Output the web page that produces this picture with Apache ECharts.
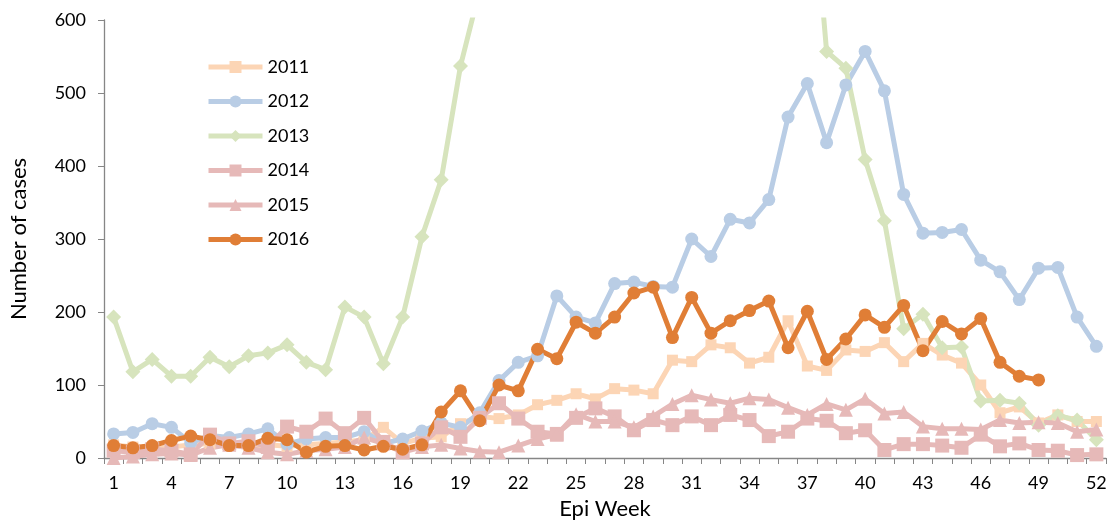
<!DOCTYPE html>
<html>
<head>
<meta charset="utf-8">
<script src="https://cdn.jsdelivr.net/npm/echarts@6/dist/echarts.min.js"></script>
<style>
html,body{margin:0;padding:0;background:#fff;}
#chart{width:1116px;height:525px;}
</style>
</head>
<body>
<div id="chart"></div>
<script>
var weeks = [];
for (var i = 1; i <= 52; i++) weeks.push(String(i));

var yTicks = [0, 100, 200, 300, 400, 500, 600];
var seriesNames = ['2011', '2012', '2013', '2014', '2015', '2016'];

var y2011 = [18,15,12,15,18,20,18,15,18,16, 18,20,22,25,42,20,27,29,47,57, 54,59,73,79,88,81,95,93,88,134, 132,155,151,130,138,188,126,120,148,146, 158,132,157,141,130,100,62,70,48,59, 50,50];
var y2012 = [33,35,47,42,21,31,28,33,40,19, 26,28,28,36,20,26,37,48,42,62, 106,131,140,222,193,185,239,241,235,234, 300,276,327,322,354,467,513,432,511,557, 503,361,308,309,313,271,255,217,260,261, 193,153];
var y2013 = [193,118,135,112,112,138,125,140,144,155, 131,121,207,193,129,193,303,381,537,642, 720,790,850,900,940,980,1000,1020,990,960, 1000,980,950,930,910,890,865,557,534,409, 325,177,197,151,152,78,79,75,45,58, 52,25];
var y2014 = [10,8,12,10,5,32,20,23,15,43, 36,54,34,55,22,8,20,42,29,55, 75,54,36,33,55,68,57,38,52,45, 57,45,59,52,30,36,54,51,34,38, 11,19,19,17,14,32,16,20,11,10, 4,5];
var y2015 = [0,2,5,6,4,14,18,14,8,5, 10,12,15,28,20,8,15,18,13,9, 8,17,26,32,60,50,50,42,57,74, 86,80,75,82,80,69,59,74,66,81, 61,63,43,40,40,39,52,48,49,48, 36,39];
var y2016 = [17,14,17,24,30,25,17,17,27,25, 8,16,17,11,16,12,18,63,92,51, 100,92,149,136,186,171,193,226,234,165, 220,171,188,202,215,151,201,135,163,196, 179,209,147,187,170,191,131,112,107];

var colors = ['#FCD5B5', '#B9CDE5', '#D7E4BD', '#E6B9B8', '#E6B9B8', '#E07E36'];
var symbols = ['rect', 'circle', 'diamond', 'rect', 'triangle', 'circle'];
var symbolSizes = [11, 13, 15, 14, 14, 13];
var dataSets = [y2011, y2012, y2013, y2014, y2015, y2016];

var series = seriesNames.map(function (name, i) {
  return {
    name: name,
    type: 'line',
    data: dataSets[i],
    symbol: symbols[i],
    symbolSize: symbolSizes[i],
    showSymbol: true,
    showAllSymbol: true,
    clip: true,
    lineStyle: { color: colors[i], width: 5 },
    itemStyle: { color: colors[i] },
    emphasis: { disabled: true },
    animation: false
  };
});

var chart = echarts.init(document.getElementById('chart'));
chart.setOption({
  animation: false,
  textStyle: { fontFamily: 'Lato, "Open Sans", sans-serif' },
  grid: { left: 100, right: 10, top: 20, bottom: 63, containLabel: false },
  legend: {
    orient: 'vertical',
    left: 201,
    top: 53,
    itemWidth: 54,
    itemHeight: 15,
    itemGap: 16.5,
    data: seriesNames,
    lineStyle: { width: 5 },
    textStyle: { fontSize: 18, color: '#000', fontFamily: 'Lato, sans-serif' }
  },
  xAxis: {
    type: 'category',
    data: weeks,
    boundaryGap: true,
    name: 'Epi Week',
    nameLocation: 'middle',
    nameGap: 40,
    nameTextStyle: { fontSize: 22, color: '#000', fontFamily: 'Lato, sans-serif' },
    axisLine: { lineStyle: { color: '#868686', width: 1.3 } },
    axisTick: { show: true, interval: 0, length: 6, lineStyle: { color: '#868686' } },
    axisLabel: { interval: 2, fontSize: 18, color: '#000', margin: 16 },
    splitLine: { show: false }
  },
  yAxis: {
    type: 'value',
    min: yTicks[0],
    max: yTicks[yTicks.length - 1],
    interval: 100,
    name: 'Number of cases',
    nameLocation: 'middle',
    nameGap: 74,
    nameTextStyle: { fontSize: 22, color: '#000', fontFamily: 'Lato, sans-serif' },
    axisLine: { show: true, lineStyle: { color: '#868686', width: 1.3 } },
    axisTick: { show: true, length: 6, lineStyle: { color: '#868686' } },
    axisLabel: { fontSize: 18, color: '#000', margin: 18 },
    splitLine: { show: false }
  },
  series: series
});
</script>
</body>
</html>
